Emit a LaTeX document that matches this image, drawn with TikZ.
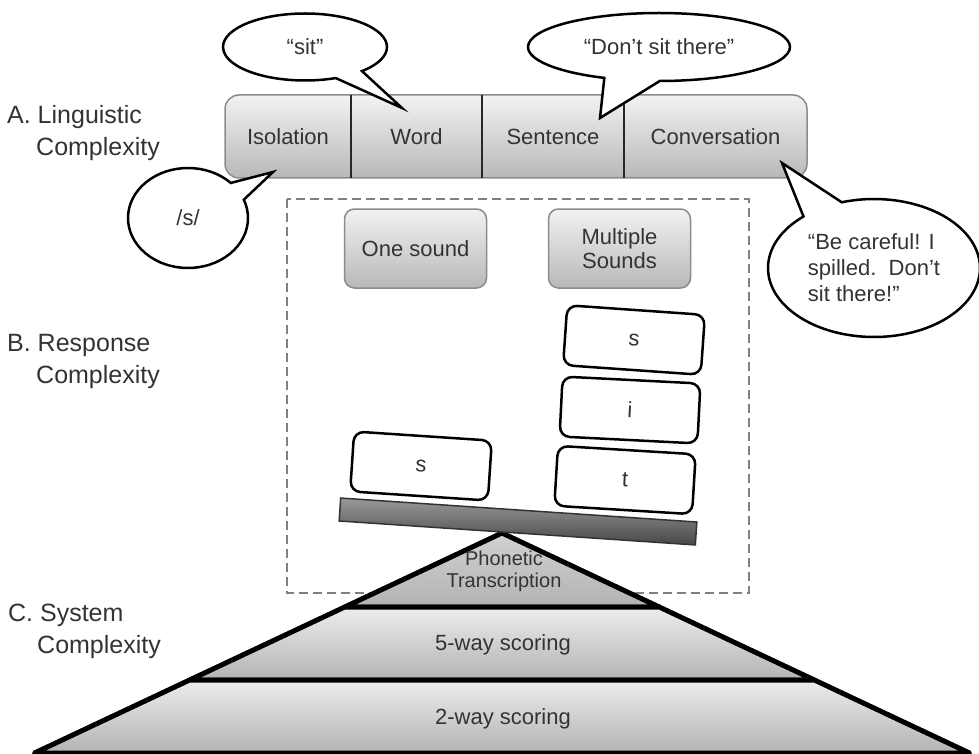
\documentclass[tikz,border=0pt]{standalone}
\usepackage{fontspec}
\setmainfont{Liberation Sans}
\usetikzlibrary{positioning,shapes.callouts,backgrounds}
\definecolor{txtgray}{HTML}{333333}

\begin{document}
\begin{tikzpicture}[x=1pt,y=-1pt,
    every node/.style={text=txtgray, font=\fontsize{22}{26}\selectfont},
    seg/.style={minimum width=#1, minimum height=83pt, inner sep=0pt, outer sep=0pt},
    graybox/.style={draw=black!45, line width=1.5pt, rounded corners=10pt, top color=black!5, bottom color=black!28,
        minimum width=142pt, minimum height=79pt, align=center, font=\fontsize{22}{24}\selectfont},
    letter/.style={draw=black, line width=2.5pt, rounded corners=10pt, fill=white, minimum width=138pt, minimum height=60pt},
    bubble/.style={ellipse callout, draw=black, line width=2.5pt, fill=white, inner sep=2pt},
    side/.style={anchor=west, align=left, inner sep=0pt, font=\fontsize{25}{32}\selectfont},
    tier/.style={draw=black, line width=5pt, line join=round, top color=black!7, bottom color=black!30}
]
    \useasboundingbox (0,0) rectangle (979,754);

    \node[side] (labA) at (7,133.5) {A. Linguistic\\\hspace*{29pt}Complexity};
    \node[side] (labB) at (7,361) {B. Response\\\hspace*{29pt}Complexity};
    \node[side] (labC) at (8,631) {C. System\\\hspace*{29pt}Complexity};

    \node[seg=126pt] (iso) at (288,136.5) {Isolation};
    \node[seg=131pt, right=0pt of iso] (word) {Word};
    \node[seg=142pt, right=0pt of word] (sent) {Sentence};
    \node[seg=183pt, right=0pt of sent] (conv) {Conversation};
    \begin{scope}[on background layer]
        \draw[draw=black!45, line width=1.5pt, rounded corners=14pt, top color=black!5, bottom color=black!28]
            (iso.north west) rectangle (conv.south east);
    \end{scope}
    \foreach \s in {iso,word,sent}
        \draw[line width=2.5pt, black!85] (\s.north east) -- (\s.south east);

    \coordinate (sittip) at (402,108);
    \coordinate (donttip) at (600,118);
    \coordinate (isotip) at (273,172);
    \coordinate (cartip) at (782,163);
    \node[bubble, callout absolute pointer={(sittip)}, callout pointer arc=22,
        minimum width=164pt, minimum height=67pt] (sit) at (305,47) {“sit”};
    \node[bubble, callout absolute pointer={(donttip)}, callout pointer arc=25,
        minimum width=262pt, minimum height=68pt] (dont) at (659,47) {“Don’t sit there”};
    \node[bubble, callout absolute pointer={(isotip)}, callout pointer arc=23,
        minimum width=120pt, minimum height=100pt] (snd) at (188,218) {/s/};
    \node[bubble, align=left, callout absolute pointer={(cartip)}, callout pointer arc=24,
        minimum width=212pt, minimum height=138pt] (careful) at (874,268) {“Be careful! I\\spilled.\ \ Don’t\\sit there!”};

    \draw[black!50, line width=1.8pt, dash pattern=on 9pt off 5pt] (287,199) rectangle (749,593);
    \node[graybox] (onesnd) at (415.5,248.5) {One sound};
    \node[graybox] (multi) at (619.5,248.5) {Multiple\\Sounds};

    \coordinate (apex) at (502,533);
    \coordinate (t1l) at (344.75,607);
    \coordinate (t1r) at (659.25,607);
    \coordinate (t2l) at (189.6,680);
    \coordinate (t2r) at (814.4,680);
    \coordinate (bl) at (34.5,753);
    \coordinate (br) at (969.5,753);
    \draw[tier, top color=black!18, bottom color=black!30] (apex) -- (t1r) -- (t1l) -- cycle;
    \draw[tier] (t1l) -- (t1r) -- (t2r) -- (t2l) -- cycle;
    \draw[tier] (t2l) -- (t2r) -- (br) -- (bl) -- cycle;
    \node[align=center, font=\fontsize{20}{22}\selectfont] (phon) at (504,571) {Phonetic\\Transcription};
    \node (five) at (503,645) {5-way scoring};
    \node (two) at (503,719) {2-way scoring};

    \node[draw=black!80, line width=1.5pt, top color=black!40, bottom color=black!72,
        minimum width=357pt, minimum height=23pt, inner sep=0pt, rotate=-3.85] (plank) at (518,521.5) {};

    \node[letter, rotate=-3.8] (one) at (421,466) {s};
    \node[letter, rotate=-3.5] (lt) at (625,480) {t};
    \node[letter, rotate=-2.9] (li) at (630,410) {i};
    \node[letter, rotate=-4] (ls) at (634,340) {s};
\end{tikzpicture}
\end{document}
